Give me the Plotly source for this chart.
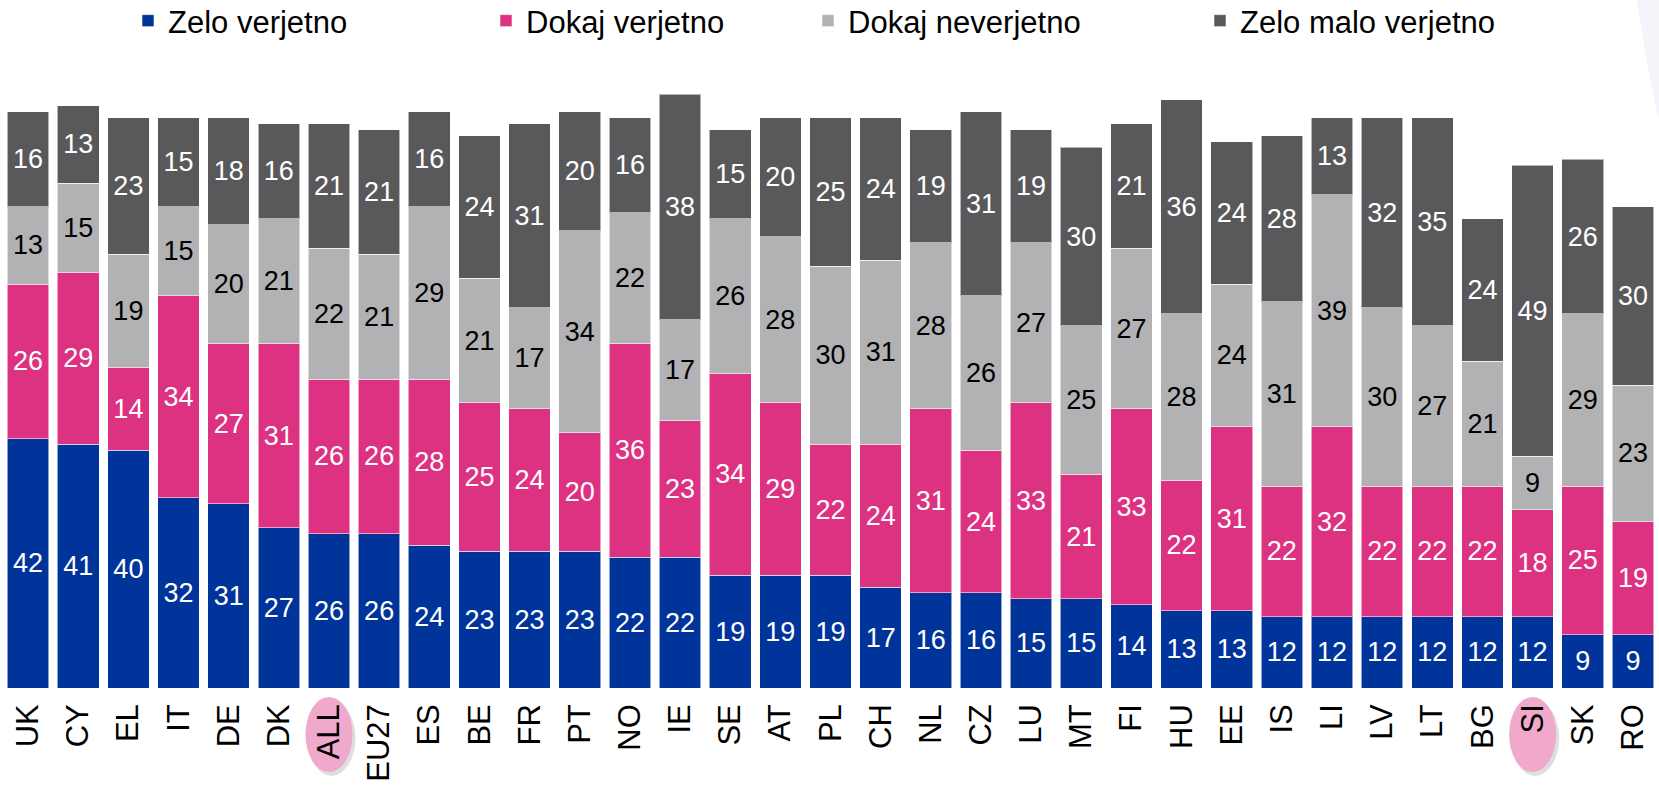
import plotly.graph_objects as go

countries = ["UK", "CY", "EL", "IT", "DE", "DK", "ALL", "EU27", "ES", "BE", "FR", "PT", "NO", "IE",
             "SE", "AT", "PL", "CH", "NL", "CZ", "LU", "MT", "FI", "HU", "EE", "IS", "LI", "LV",
             "LT", "BG", "SI", "SK", "RO"]
zelo_verjetno = [42, 41, 40, 32, 31, 27, 26, 26, 24, 23, 23, 23, 22, 22, 19, 19, 19, 17, 16, 16, 15,
                 15, 14, 13, 13, 12, 12, 12, 12, 12, 12, 9, 9]
dokaj_verjetno = [26, 29, 14, 34, 27, 31, 26, 26, 28, 25, 24, 20, 36, 23, 34, 29, 22, 24, 31, 24, 33,
                  21, 33, 22, 31, 22, 32, 22, 22, 22, 18, 25, 19]
dokaj_neverjetno = [13, 15, 19, 15, 20, 21, 22, 21, 29, 21, 17, 34, 22, 17, 26, 28, 30, 31, 28, 26, 27,
                    25, 27, 28, 24, 31, 39, 30, 27, 21, 9, 29, 23]
zelo_malo_verjetno = [16, 13, 23, 15, 18, 16, 21, 21, 16, 24, 31, 20, 16, 38, 15, 20, 25, 24, 19, 31, 19,
                      30, 21, 36, 24, 28, 13, 32, 35, 24, 49, 26, 30]
series_names = ["Zelo verjetno", "Dokaj verjetno", "Dokaj neverjetno", "Zelo malo verjetno"]
highlighted = ["ALL", "SI"]

series_values = [zelo_verjetno, dokaj_verjetno, dokaj_neverjetno, zelo_malo_verjetno]
colors = ["#00349A", "#DD3181", "#B2B2B4", "#59595B"]
text_colors = ["white", "white", "black", "white"]
FONT = "Liberation Sans, Arial, sans-serif"

W, H = 1659, 785
ML, MR, MT, MB = 3, 1, 94, 97
PW = W - ML - MR
PH = H - MT - MB

def px_to_paper_x(px):
    return (px - ML) / PW

def px_to_paper_y(py):
    return (H - MB - py) / PH

# legend text start positions (pixels)
legend_text_x = [166, 524, 846, 1238]
legend_ids = ["legend", "legend2", "legend3", "legend4"]

fig = go.Figure()
for i, (name, vals) in enumerate(zip(series_names, series_values)):
    fig.add_trace(go.Bar(
        x=countries, y=vals, name=name,
        marker=dict(color=colors[i], line=dict(color="rgba(255,255,255,0.55)", width=1)),
        text=vals, textposition="inside", insidetextanchor="middle", textangle=0,
        constraintext="none",
        textfont=dict(size=27, color=text_colors[i], family=FONT),
        legend=legend_ids[i], showlegend=True,
        hoverinfo="x+y+name",
    ))

layout_legends = {}
for i, lid in enumerate(legend_ids):
    layout_legends[lid] = dict(
        x=px_to_paper_x(legend_text_x[i] - 38), xanchor="left",
        y=px_to_paper_y(21), yanchor="middle",
        orientation="h", font=dict(size=31, color="black", family=FONT),
        bgcolor="rgba(0,0,0,0)", itemwidth=30,
    )

shapes = []
# faint decorative swoosh at the top right
shapes.append(dict(type="circle", xref="paper", yref="paper",
                   x0=px_to_paper_x(1623), x1=px_to_paper_x(4509),
                   y0=px_to_paper_y(1243), y1=px_to_paper_y(-1643),
                   fillcolor="#F4F5FB", line=dict(width=0), layer="below"))
n = len(countries)
for c in highlighted:
    idx = countries.index(c)
    cx = (idx + 0.5) / n
    hw = 23.5 / PW
    shapes.append(dict(type="circle", xref="paper", yref="paper",
                       x0=cx - hw + 2 / PW, x1=cx + hw + 3 / PW,
                       y0=px_to_paper_y(776), y1=px_to_paper_y(700),
                       fillcolor="rgba(0,0,0,0.13)", line=dict(width=0), layer="below"))
    shapes.append(dict(type="circle", xref="paper", yref="paper",
                       x0=cx - hw, x1=cx + hw,
                       y0=px_to_paper_y(772), y1=px_to_paper_y(697),
                       fillcolor="#F0A9CB", line=dict(width=0), layer="below"))

fig.update_layout(
    width=W, height=H,
    margin=dict(l=ML, r=MR, t=MT, b=MB, pad=0, autoexpand=False),
    barmode="stack", bargap=0.17,
    showlegend=True,
    paper_bgcolor="white", plot_bgcolor="rgba(0,0,0,0)",
    font=dict(family=FONT, color="black"),
    uniformtext=dict(minsize=27, mode="show"),
    xaxis=dict(type="category", tickangle=-90, tickfont=dict(size=31, color="black", family=FONT),
               showline=False, showgrid=False, zeroline=False, ticks="", fixedrange=True,
               ticklabelstandoff=9, automargin=False),
    yaxis=dict(range=[0, 100], visible=False, showgrid=False, zeroline=False, fixedrange=True),
    shapes=shapes,
    **layout_legends,
)

fig.write_html("out.html", config={"displayModeBar": False},
               post_script="document.body.style.margin='0';document.body.style.overflow='hidden';")
